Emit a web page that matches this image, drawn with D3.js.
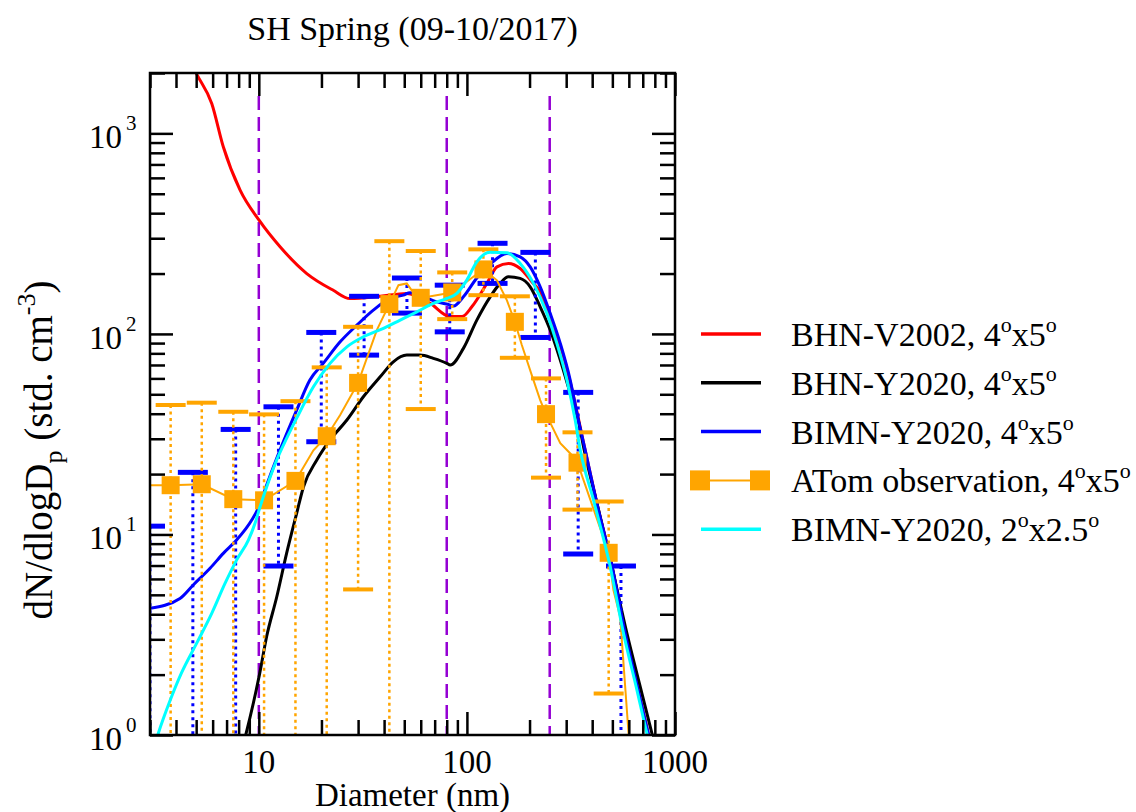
<!DOCTYPE html>
<html>
<head>
<meta charset="utf-8">
<script src="https://cdn.jsdelivr.net/npm/d3@7"></script>
<style>
body { margin: 0; background: #fff; }
text { font-family: "Liberation Serif", "Times New Roman", serif; fill: #000; }
</style>
</head>
<body>
<script>
'use strict';

// BHN-V2002, 4x5 (red)
var redD = [4.67, 5.03, 5.94, 6.75, 8.13, 10.03, 12.65, 17.0, 22.8, 27.4, 38.3, 51.4, 66.6, 83, 94.6, 105.6, 124.7, 139.4, 158.4, 180.3, 205, 225, 251.3, 281, 313.6, 370, 418, 499, 576.5, 665, 744, 804];
var redV = [2317, 1973, 1409, 857, 521, 369, 272, 200, 165, 150, 154, 159, 142, 122, 122, 136.5, 178.6, 216, 224.6, 212, 182, 161.7, 120, 87.3, 57.5, 26.35, 14.84, 6.9, 3.21, 1.68, 1.02, 0.75];

// BHN-Y2020, 4x5 (black)
var blackD = [8.4, 8.69, 9.41, 10.1, 10.9, 12.2, 13.6, 15.2, 16.4, 19.0, 22.0, 26.5, 31.8, 38.3, 44.3, 51.4, 59.6, 69.0, 80.1, 83.1, 96.2, 111.6, 129.4, 144.5, 158.4, 180.3, 201.4, 225, 251.3, 281, 313.6, 342.6, 366.3, 418, 497.6, 587.5, 693.7, 774.6, 813];
var blackV = [0.89, 1.02, 1.44, 2.03, 3.09, 4.89, 8.05, 12.74, 17.3, 23.5, 29.6, 37.2, 48.6, 61.1, 72.6, 78.4, 78.4, 75.5, 71.3, 69.9, 84.7, 117.2, 153.1, 178.6, 192.6, 189.1, 171.7, 136.5, 104.5, 74.0, 50.5, 37.2, 26.35, 14.84, 6.9, 3.21, 1.61, 1.02, 0.84];

// BIMN-Y2020, 4x5 (blue)
var blueD = [3.0, 4.18, 4.84, 5.83, 6.75, 7.82, 9.25, 9.93, 10.9, 12.65, 15.2, 17.6, 20.4, 24.6, 29.6, 35.5, 42.8, 49.5, 53.3, 61.8, 71.7, 83.1, 86.2, 96.2, 111.6, 129.4, 155.7, 180.3, 201.4, 225, 251.3, 281, 313.6, 337.9, 370, 418, 499, 576.5, 665, 744, 804];
var blueV = [4.28, 4.80, 5.60, 6.78, 8.05, 9.38, 11.8, 13.5, 17.6, 26.4, 41.7, 58.9, 71.3, 91.3, 110.6, 131.4, 150.3, 156.1, 160.3, 153.1, 144.5, 139.2, 137.6, 153.1, 190, 222.8, 251.9, 242.3, 216, 171.7, 126.6, 89.7, 58.9, 40.2, 26.4, 14.8, 6.9, 3.21, 1.68, 1.02, 0.75];

// BIMN-Y2020 4x5 spread (blue caps)
var blueBinD = [3, 4.82, 7.74, 12.43, 19.96, 32.06, 51.5, 82.7, 132.8, 213.3, 342.6, 550];
var blueUp = [11.0, 20.4, 33.4, 43.3, 101.7, 154, 190, 175, 283, 255, 51.1, 6.96];
var blueLo = [0.1, 0.1, 0.1, 6.96, 29.0, 78.4, 127, 102.4, 178.6, 96, 7.99, 0.1];

// ATom observation, 4x5 (orange line and binned squares)
var atomLineD = [3, 3.77, 5.32, 7.54, 10.6, 15.0, 18.3, 21.2, 24.6, 30, 36.9, 42.4, 46.9, 51.4, 54.3, 60, 85, 120, 139.4, 155.7, 170, 183.6, 205, 225, 240, 281, 319, 340, 480, 506, 545, 598, 680];
var atomLineV = [17.6, 17.6, 17.8, 15.0, 14.8, 18.5, 26.3, 30.9, 39.4, 57, 104.5, 140.8, 175, 178.6, 165, 151, 161, 210, 185, 147, 115, 88, 62.3, 46.8, 39.8, 28.5, 24.9, 22.8, 8.1, 5.28, 3.89, 1.02, 0.3];
var atomBinD = [3.77, 5.32, 7.54, 10.6, 15.0, 21.2, 30, 42.4, 60, 85, 120, 170, 240, 340, 480];
var atomMean = [17.6, 17.8, 15.0, 14.8, 18.5, 30.9, 57.0, 140.8, 151.4, 161, 209.7, 114.9, 39.8, 22.8, 8.1];
var atomUp = [44.2, 45.4, 40.9, 39.7, 46.2, 68.1, 108.5, 290, 259, 202.6, 264, 154, 60, 32.3, 14.6];
var atomLo = [0.1, 0.1, 0.1, 0.1, 0.1, 0.1, 5.32, 0.1, 42.2, 118.5, 156, 76, 19.2, 13.3, 1.61];

// BIMN-Y2020, 2x2.5 (cyan)
var cyanD = [3.13, 3.29, 3.75, 4.24, 5.03, 5.94, 6.88, 7.82, 8.91, 9.59, 10.14, 10.92, 12.19, 13.62, 15.2, 18.3, 22.0, 26.5, 31.8, 39.7, 47.8, 57.5, 69.0, 80.1, 89.5, 99.9, 111.6, 129.4, 155.7, 180.3, 208.9, 242.3, 270.6, 302.4, 331.4, 350.5, 405.9, 488.4, 565.9, 656, 733, 769];
var cyanV = [0.86, 1.02, 1.49, 2.03, 2.87, 4.04, 5.70, 7.45, 9.38, 11.36, 13.74, 17.29, 23.5, 30.2, 38.0, 54.5, 71.3, 86.2, 96.7, 106.5, 117.2, 128.9, 141.9, 150.3, 159.2, 185.5, 228.8, 255.7, 254, 224.6, 178.6, 126.6, 89.7, 58.85, 37.2, 26.35, 14.84, 6.9, 3.21, 1.68, 1.02, 0.84];

// Reference diameters (dashed purple lines)
var refD = [10, 80, 250];

// Ticks
var xMajor = [10, 100, 1000];
var xMinor = [3, 4, 5, 6, 7, 8, 9, 20, 30, 40, 50, 60, 70, 80, 90, 200, 300, 400, 500, 600, 700, 800, 900];
var yMajor = [1, 10, 100, 1000];
var yMinor = [2, 3, 4, 5, 6, 7, 8, 9, 20, 30, 40, 50, 60, 70, 80, 90, 200, 300, 400, 500, 600, 700, 800, 900, 2000];
var yExp = ["0", "1", "2", "3"];

var legendLabels = ["BHN-V2002, 4^ox5^o", "BHN-Y2020, 4^ox5^o", "BIMN-Y2020, 4^ox5^o", "ATom observation, 4^ox5^o", "BIMN-Y2020, 2^ox2.5^o"];
var legendColors = ["#ff0000", "#000000", "#0000ff", "#ffa500", "#00ffff"];

// Canvas
var plot = {left: 150, top: 73, width: 525, height: 662};
var svg = d3.select("body").append("svg")
    .attr("width", 1136)
    .attr("height", 812);

var chart = svg.append("g")
    .attr("transform", "translate(" + plot.left + "," + plot.top + ")");

var x = d3.scaleLog().domain([3, 1000]).range([0, plot.width]);
var y = d3.scaleLog().domain([1, 2000]).range([plot.height, 0]);

chart.append("clipPath").attr("id", "clip")
    .append("rect").attr("width", plot.width).attr("height", plot.height);
var inner = chart.append("g").attr("clip-path", "url(#clip)");

function zip(ds, vs) {
    return ds.map(function(d, i) { return [d, vs[i]]; });
}

var smooth = d3.line()
    .x(function(d) { return x(d[0]); })
    .y(function(d) { return y(d[1]); })
    .curve(d3.curveMonotoneX);
var straight = d3.line()
    .x(function(d) { return x(d[0]); })
    .y(function(d) { return y(d[1]); });

// dashed reference lines
inner.selectAll(".ref")
    .data(refD)
  .enter().append("line")
    .attr("x1", function(d) { return x(d); })
    .attr("x2", function(d) { return x(d); })
    .attr("y1", 23)
    .attr("y2", plot.height)
    .attr("stroke", "#9400d3")
    .attr("stroke-width", 2.5)
    .attr("stroke-dasharray", "14,7");

function addLine(ds, vs, color) {
    inner.append("path")
        .attr("d", smooth(zip(ds, vs)))
        .attr("fill", "none")
        .attr("stroke", color)
        .attr("stroke-width", 3)
        .attr("stroke-linejoin", "round");
}

function errorBars(ds, up, lo, color, capW, dotW, dash) {
    var gE = inner.append("g");
    gE.selectAll(".bar")
        .data(ds)
      .enter().append("line")
        .attr("x1", function(d) { return x(d); })
        .attr("x2", function(d) { return x(d); })
        .attr("y1", function(d, i) { return y(up[i]); })
        .attr("y2", function(d, i) { return y(lo[i]); })
        .attr("stroke", color)
        .attr("stroke-width", dotW)
        .attr("stroke-dasharray", dash);
    [up, lo].forEach(function(arr) {
        gE.selectAll(null)
            .data(ds)
          .enter().append("line")
            .attr("x1", function(d) { return x(d) - 15; })
            .attr("x2", function(d) { return x(d) + 15; })
            .attr("y1", function(d, i) { return y(arr[i]); })
            .attr("y2", function(d, i) { return y(arr[i]); })
            .attr("stroke", color)
            .attr("stroke-width", capW);
    });
}

addLine(redD, redV, "#ff0000");
addLine(blackD, blackV, "#000000");
addLine(blueD, blueV, "#0000ff");

errorBars(blueBinD, blueUp, blueLo, "#0000ff", 5, 3, "3,4");
errorBars(atomBinD, atomUp, atomLo, "#ffa500", 4, 2.5, "3,3.5");

// ATom line + squares
inner.append("path")
    .attr("d", straight(zip(atomLineD, atomLineV)))
    .attr("fill", "none")
    .attr("stroke", "#ffa500")
    .attr("stroke-width", 2);
inner.selectAll(".sq")
    .data(zip(atomBinD, atomMean))
  .enter().append("rect")
    .attr("x", function(d) { return x(d[0]) - 9; })
    .attr("y", function(d) { return y(d[1]) - 9; })
    .attr("width", 18)
    .attr("height", 18)
    .attr("fill", "#ffa500");

addLine(cyanD, cyanV, "#00ffff");

// Ticks on all four sides, pointing inward
function ticks(axisFn, scale, values, size, tr) {
    var a = chart.append("g")
        .attr("transform", tr)
        .call(axisFn(scale).tickValues(values).tickSize(-size).tickFormat(""));
    a.select(".domain").remove();
    a.selectAll("line").attr("stroke-width", 2.5);
}
ticks(d3.axisBottom, x, xMinor, 15, "translate(0," + plot.height + ")");
ticks(d3.axisBottom, x, xMajor, 23, "translate(0," + plot.height + ")");
ticks(d3.axisTop, x, xMinor, 15, "translate(0,0)");
ticks(d3.axisTop, x, xMajor, 23, "translate(0,0)");
ticks(d3.axisLeft, y, yMinor, 15, "translate(0,0)");
ticks(d3.axisLeft, y, yMajor, 23, "translate(0,0)");
ticks(d3.axisRight, y, yMinor, 15, "translate(" + plot.width + ",0)");
ticks(d3.axisRight, y, yMajor, 23, "translate(" + plot.width + ",0)");

// Frame
chart.append("rect")
    .attr("width", plot.width)
    .attr("height", plot.height)
    .attr("fill", "none")
    .attr("stroke", "#000")
    .attr("stroke-width", 2.5);

// X tick labels
chart.selectAll(".xlab")
    .data(xMajor)
  .enter().append("text")
    .attr("x", function(d) { return x(d); })
    .attr("y", plot.height + 38)
    .attr("text-anchor", "middle")
    .style("font-size", "33px")
    .text(function(d) { return d; });

// Y tick labels (10^n)
yMajor.forEach(function(v, i) {
    chart.append("text")
        .attr("x", -28)
        .attr("y", y(v) + 15)
        .attr("text-anchor", "end")
        .style("font-size", "33px")
        .text("10");
    chart.append("text")
        .attr("x", -24)
        .attr("y", y(v) - 3)
        .style("font-size", "21px")
        .text(yExp[i]);
});

// Title and axis titles
svg.append("text")
    .attr("x", plot.left + plot.width / 2)
    .attr("y", 40)
    .attr("text-anchor", "middle")
    .style("font-size", "34px")
    .text("SH Spring (09-10/2017)");

svg.append("text")
    .attr("x", plot.left + plot.width / 2)
    .attr("y", 806)
    .attr("text-anchor", "middle")
    .style("font-size", "33px")
    .text("Diameter (nm)");

var yt = svg.append("text")
    .attr("transform", "translate(52,450) rotate(-90)")
    .attr("text-anchor", "middle")
    .style("font-size", "39px");
yt.append("tspan").text("dN/dlogD");
yt.append("tspan").attr("dy", 10).style("font-size", "26px").text("p");
yt.append("tspan").attr("dy", -10).text(" (std. cm");
yt.append("tspan").attr("dy", -17).style("font-size", "26px").text("-3");
yt.append("tspan").attr("dy", 17).text(")");

// Legend
function richText(sel, label) {
    var parts = label.split("^");
    sel.append("tspan").text(parts[0]);
    for (var k = 1; k < parts.length; k++) {
        sel.append("tspan").attr("dy", -14).style("font-size", "22px").text(parts[k].charAt(0));
        sel.append("tspan").attr("dy", 14).text(parts[k].slice(1));
    }
}

var legend = svg.append("g");
legendLabels.forEach(function(lab, i) {
    var ly = 334 + i * 48.8;
    if (i === 3) {
        legend.append("line")
            .attr("x1", 700).attr("x2", 760)
            .attr("y1", ly).attr("y2", ly)
            .attr("stroke", legendColors[i])
            .attr("stroke-width", 2);
        [700, 760].forEach(function(cx) {
            legend.append("rect")
                .attr("x", cx - 10).attr("y", ly - 10)
                .attr("width", 20).attr("height", 20)
                .attr("fill", legendColors[i]);
        });
    } else {
        legend.append("line")
            .attr("x1", 701).attr("x2", 761)
            .attr("y1", ly).attr("y2", ly)
            .attr("stroke", legendColors[i])
            .attr("stroke-width", 3.5);
    }
    var t = legend.append("text")
        .attr("x", 791)
        .attr("y", ly + 12)
        .style("font-size", "34px");
    richText(t, lab);
});
</script>
</body>
</html>
